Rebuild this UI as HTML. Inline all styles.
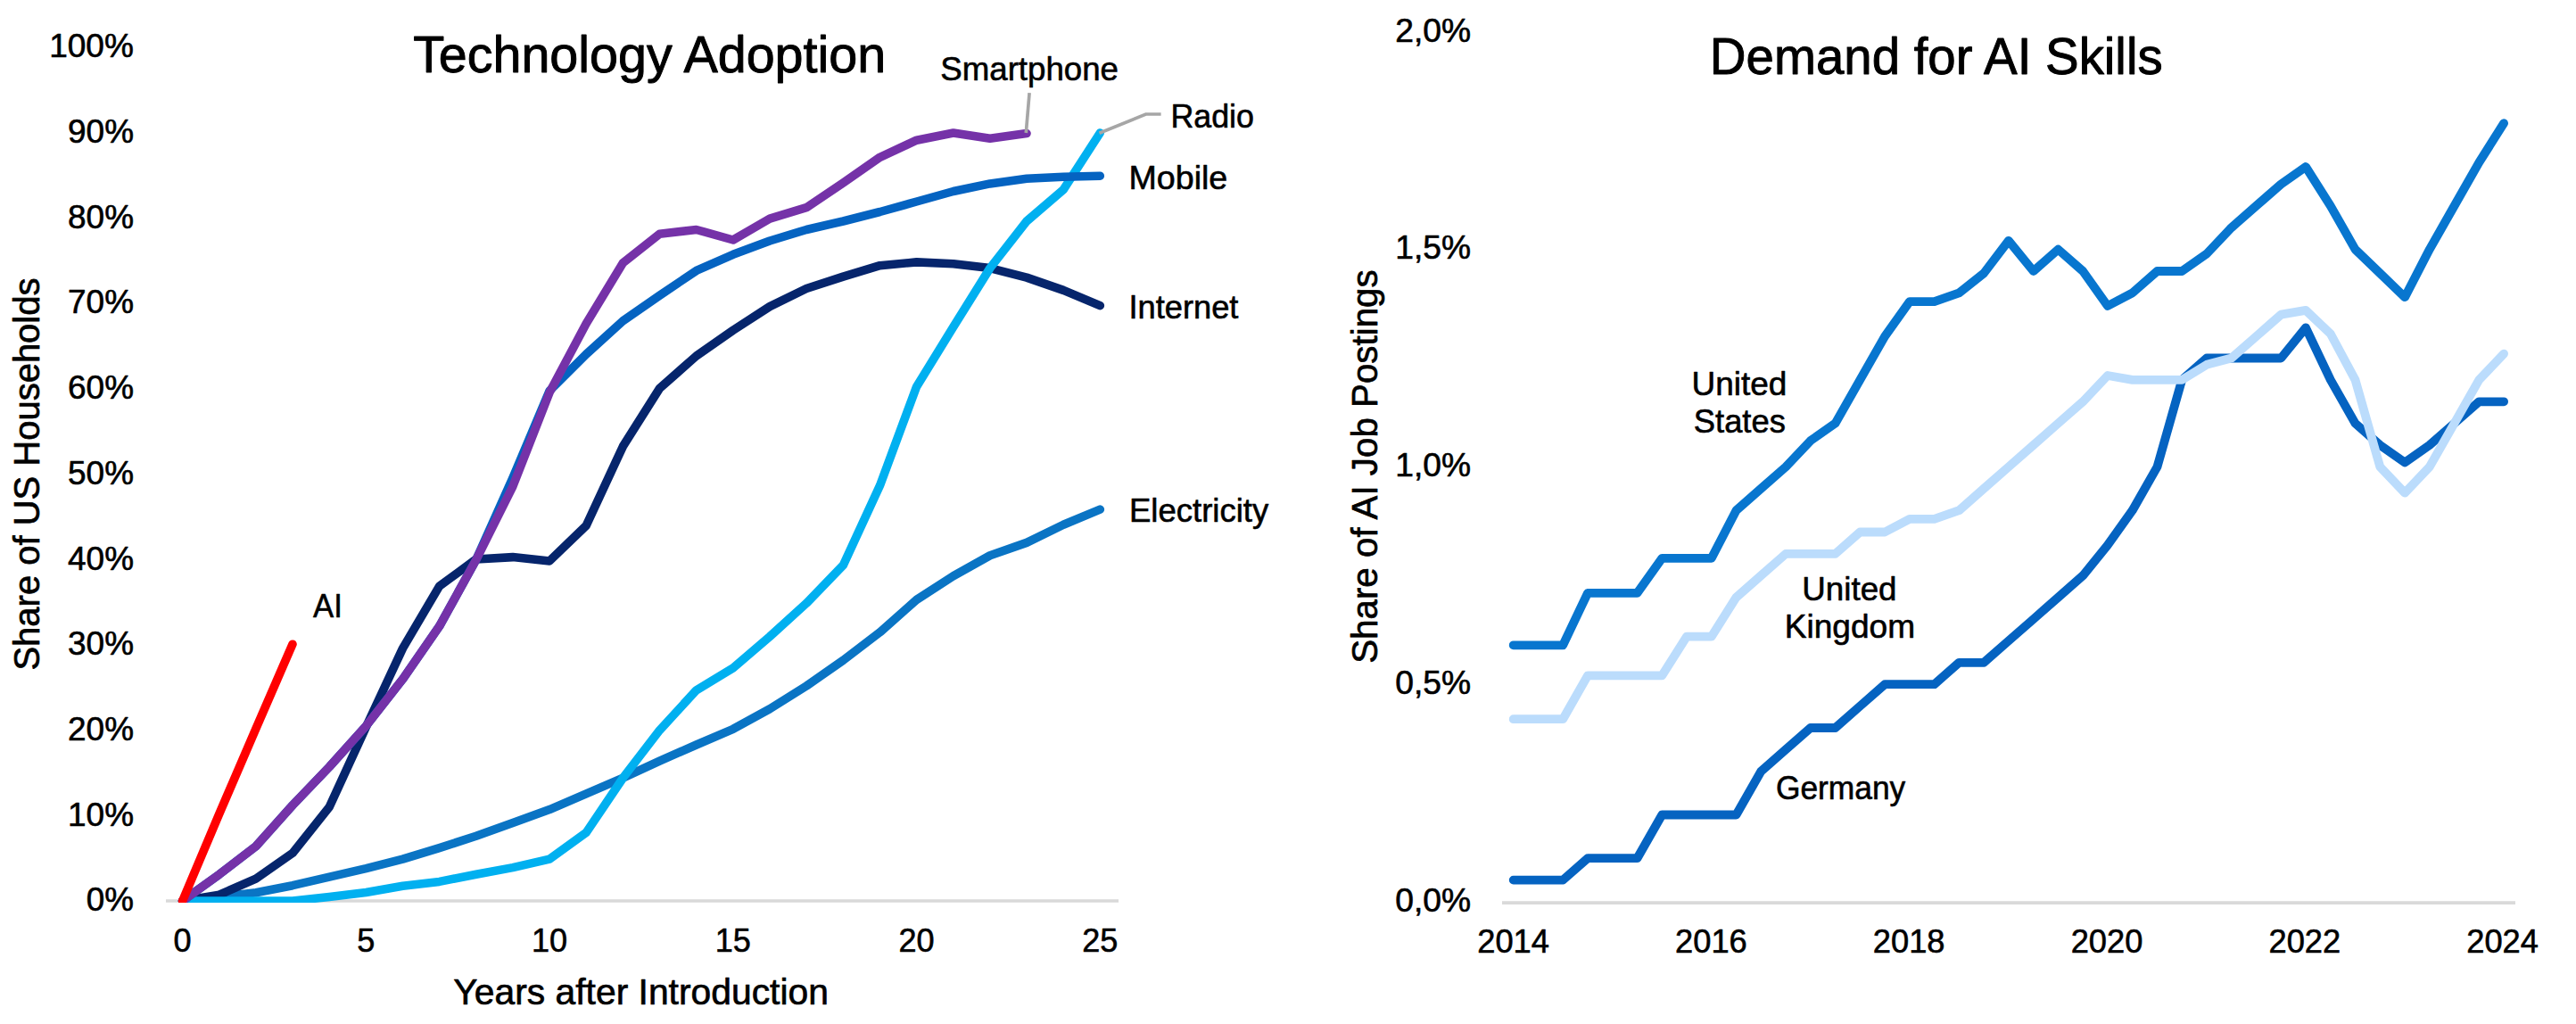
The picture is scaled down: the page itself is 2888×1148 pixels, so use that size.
<!DOCTYPE html>
<html lang="en"><head><meta charset="utf-8"><title>Technology Adoption / Demand for AI Skills</title>
<style>html,body{margin:0;padding:0;background:#fff}body{width:2888px;height:1148px;overflow:hidden}svg{display:block}text{font-family:"Liberation Sans",sans-serif;fill:#000;stroke:#000;stroke-linejoin:round}polyline{fill:none;stroke-linecap:round;stroke-linejoin:round}</style>
</head><body>
<svg width="2888" height="1148" viewBox="0 0 2888 1148">
<defs><clipPath id="cl"><rect x="150" y="0" width="1200" height="1011.9"/></clipPath></defs>
<rect width="2888" height="1148" fill="#fff"/>
<line x1="186" y1="1010" x2="1254" y2="1010" stroke="#d9d9d9" stroke-width="3.6"/>
<line x1="1684" y1="1012.1" x2="2820" y2="1012.1" stroke="#d9d9d9" stroke-width="3.6"/>
<g clip-path="url(#cl)">
<polyline points="204.6,1010.0 245.8,1005.6 286.9,1000.8 328.0,992.7 369.2,983.1 410.4,973.6 451.5,963.1 492.6,950.6 533.8,937.3 574.9,922.4 616.1,907.6 657.2,889.9 698.4,872.2 739.5,853.1 780.7,835.0 821.9,817.3 863.0,794.8 904.1,769.0 945.3,740.3 986.5,708.8 1027.6,672.4 1068.8,645.7 1109.9,622.7 1151.0,608.4 1192.2,588.3 1233.3,571.1" stroke="#0A74C4" stroke-width="9.6"/>
<polyline points="204.6,1010.0 245.8,1003.2 286.9,985.1 328.0,956.4 369.2,904.8 410.4,814.9 451.5,726.9 492.6,657.1 533.8,627.0 574.9,624.6 616.1,628.9 657.2,589.3 698.4,500.4 739.5,435.4 780.7,399.0 821.9,370.3 863.0,343.6 904.1,323.5 945.3,310.1 986.5,297.7 1027.6,293.9 1068.8,295.8 1109.9,300.6 1151.0,311.1 1192.2,325.4 1233.3,342.6" stroke="#06256C" stroke-width="9.6"/>
<polyline points="204.6,1010.0 245.8,1010.0 286.9,1010.0 328.0,1010.0 369.2,1005.4 410.4,1000.4 451.5,993.2 492.6,988.4 533.8,980.3 574.9,972.6 616.1,963.1 657.2,933.4 698.4,872.2 739.5,818.7 780.7,773.8 821.9,748.9 863.0,713.6 904.1,676.3 945.3,633.7 986.5,544.3 1027.6,433.4 1068.8,366.5 1109.9,300.6 1151.0,248.0 1192.2,212.6 1233.3,149.0" stroke="#00B0F0" stroke-width="9.6"/>
<polyline points="204.6,1010.0 245.8,980.3 286.9,948.7 328.0,902.8 369.2,859.8 410.4,813.9 451.5,761.4 492.6,702.1 533.8,627.5 574.9,535.7 616.1,438.2 657.2,397.1 698.4,359.8 739.5,331.2 780.7,303.4 821.9,285.3 863.0,270.0 904.1,257.5 945.3,248.0 986.5,237.5 1027.6,226.0 1068.8,214.5 1109.9,205.9 1151.0,200.2 1192.2,198.3 1233.3,197.3" stroke="#0563C1" stroke-width="9.6"/>
<polyline points="204.6,1010.0 245.8,980.3 286.9,948.7 328.0,902.8 369.2,859.8 410.4,813.9 451.5,761.4 492.6,702.1 533.8,627.5 574.9,545.3 616.1,440.1 657.2,362.7 698.4,294.8 739.5,262.3 780.7,257.5 821.9,269.0 863.0,245.1 904.1,232.7 945.3,205.0 986.5,176.3 1027.6,157.2 1068.8,149.0 1109.9,155.2 1151.0,149.5" stroke="#7532A8" stroke-width="9.6"/>
<polyline points="204.6,1010.0 245.8,912.4 286.9,816.8 328.0,722.2" stroke="#FF0000" stroke-width="9.6"/>
</g>
<polyline points="1154.1,104.1 1150.3,149" stroke="#a6a6a6" stroke-width="3.7" style="stroke-linecap:butt"/>
<polyline points="1232.5,149.3 1284.6,128 1301.6,128" stroke="#a6a6a6" stroke-width="3.7" style="stroke-linecap:butt;stroke-linejoin:miter"/>
<text x="463.13" y="81.12" font-size="57.4" stroke-width="0.95" textLength="530.01" lengthAdjust="spacingAndGlyphs">Technology Adoption</text>
<text x="55.16" y="63.60" font-size="36.6" stroke-width="0.6" textLength="94.66" lengthAdjust="spacingAndGlyphs">100%</text>
<text x="76.08" y="159.92" font-size="36.6" stroke-width="0.6" textLength="73.94" lengthAdjust="spacingAndGlyphs">90%</text>
<text x="76.08" y="255.64" font-size="36.6" stroke-width="0.6" textLength="73.94" lengthAdjust="spacingAndGlyphs">80%</text>
<text x="76.08" y="351.36" font-size="36.6" stroke-width="0.6" textLength="73.94" lengthAdjust="spacingAndGlyphs">70%</text>
<text x="76.08" y="447.08" font-size="36.6" stroke-width="0.6" textLength="73.94" lengthAdjust="spacingAndGlyphs">60%</text>
<text x="76.08" y="542.80" font-size="36.6" stroke-width="0.6" textLength="73.94" lengthAdjust="spacingAndGlyphs">50%</text>
<text x="76.08" y="638.52" font-size="36.6" stroke-width="0.6" textLength="73.95" lengthAdjust="spacingAndGlyphs">40%</text>
<text x="76.08" y="734.24" font-size="36.6" stroke-width="0.6" textLength="73.94" lengthAdjust="spacingAndGlyphs">30%</text>
<text x="76.08" y="829.96" font-size="36.6" stroke-width="0.6" textLength="73.94" lengthAdjust="spacingAndGlyphs">20%</text>
<text x="76.09" y="925.68" font-size="36.6" stroke-width="0.6" textLength="73.93" lengthAdjust="spacingAndGlyphs">10%</text>
<text x="96.75" y="1020.80" font-size="36.6" stroke-width="0.6" textLength="53.21" lengthAdjust="spacingAndGlyphs">0%</text>
<text x="194.57" y="1066.60" font-size="36.6" stroke-width="0.6" textLength="20.05" lengthAdjust="spacingAndGlyphs">0</text>
<text x="400.32" y="1066.60" font-size="36.6" stroke-width="0.6" textLength="20.05" lengthAdjust="spacingAndGlyphs">5</text>
<text x="596.05" y="1066.60" font-size="36.6" stroke-width="0.6" textLength="40.10" lengthAdjust="spacingAndGlyphs">10</text>
<text x="801.80" y="1066.60" font-size="36.6" stroke-width="0.6" textLength="40.10" lengthAdjust="spacingAndGlyphs">15</text>
<text x="1007.55" y="1066.60" font-size="36.6" stroke-width="0.6" textLength="40.10" lengthAdjust="spacingAndGlyphs">20</text>
<text x="1213.30" y="1066.60" font-size="36.6" stroke-width="0.6" textLength="40.10" lengthAdjust="spacingAndGlyphs">25</text>
<text x="508.34" y="1126.46" font-size="41" stroke-width="0.68" textLength="420.55" lengthAdjust="spacingAndGlyphs">Years after Introduction</text>
<text x="0" y="0" font-size="41" stroke-width="0.68" textLength="440.04" lengthAdjust="spacingAndGlyphs" transform="translate(44.06,751.57) rotate(-90)">Share of US Households</text>
<text x="1054.29" y="90.10" font-size="36.6" stroke-width="0.6" textLength="199.72" lengthAdjust="spacingAndGlyphs">Smartphone</text>
<text x="1312.40" y="143.00" font-size="36.6" stroke-width="0.6" textLength="93.54" lengthAdjust="spacingAndGlyphs">Radio</text>
<text x="1265.47" y="211.90" font-size="36.6" stroke-width="0.6" textLength="110.81" lengthAdjust="spacingAndGlyphs">Mobile</text>
<text x="1265.47" y="357.40" font-size="36.6" stroke-width="0.6" textLength="122.96" lengthAdjust="spacingAndGlyphs">Internet</text>
<text x="1265.95" y="585.20" font-size="36.6" stroke-width="0.6" textLength="156.36" lengthAdjust="spacingAndGlyphs">Electricity</text>
<text x="351.10" y="692.40" font-size="36.6" stroke-width="0.6" textLength="32.77" lengthAdjust="spacingAndGlyphs">AI</text>
<polyline points="1696.7,986.6 1724.5,986.6 1752.2,986.6 1780.0,962.2 1807.7,962.2 1835.5,962.2 1863.3,913.5 1891.0,913.5 1918.8,913.5 1946.5,913.5 1974.3,864.7 2002.1,840.3 2029.8,816.0 2057.6,816.0 2085.3,791.6 2113.1,767.2 2140.9,767.2 2168.6,767.2 2196.4,742.8 2224.1,742.8 2251.9,718.4 2279.7,694.1 2307.4,669.7 2335.2,645.3 2362.9,611.2 2390.7,572.2 2418.5,523.4 2446.2,425.9 2474.0,401.5 2501.7,401.5 2529.5,401.5 2557.3,401.5 2585.0,367.4 2612.8,425.9 2640.5,474.6 2668.3,499.0 2696.1,518.5 2723.8,499.0 2751.6,474.6 2779.3,450.3 2807.1,450.3" stroke="#0563C1" stroke-width="9.8"/>
<polyline points="1696.7,723.3 1724.5,723.3 1752.2,723.3 1780.0,664.8 1807.7,664.8 1835.5,664.8 1863.3,625.8 1891.0,625.8 1918.8,625.8 1946.5,572.2 1974.3,547.8 2002.1,523.4 2029.8,494.1 2057.6,474.6 2085.3,425.9 2113.1,377.1 2140.9,338.1 2168.6,338.1 2196.4,328.4 2224.1,306.4 2251.9,269.8 2279.7,304.0 2307.4,279.6 2335.2,304.0 2362.9,343.0 2390.7,328.4 2418.5,304.0 2446.2,304.0 2474.0,284.5 2501.7,255.2 2529.5,230.8 2557.3,206.5 2585.0,187.0 2612.8,230.8 2640.5,279.6 2668.3,306.4 2696.1,333.2 2723.8,279.6 2751.6,230.8 2779.3,182.1 2807.1,138.2" stroke="#0876CF" stroke-width="9.8"/>
<polyline points="1696.7,806.2 1724.5,806.2 1752.2,806.2 1780.0,757.4 1807.7,757.4 1835.5,757.4 1863.3,757.4 1891.0,713.6 1918.8,713.6 1946.5,669.7 1974.3,645.3 2002.1,620.9 2029.8,620.9 2057.6,620.9 2085.3,596.5 2113.1,596.5 2140.9,581.9 2168.6,581.9 2196.4,572.2 2224.1,547.8 2251.9,523.4 2279.7,499.0 2307.4,474.6 2335.2,450.3 2362.9,421.0 2390.7,425.9 2418.5,425.9 2446.2,425.9 2474.0,408.8 2501.7,401.5 2529.5,377.1 2557.3,352.7 2585.0,347.9 2612.8,374.2 2640.5,425.9 2668.3,523.4 2696.1,552.7 2723.8,523.4 2751.6,474.6 2779.3,425.9 2807.1,396.6" stroke="#BBDCFC" stroke-width="9.8"/>
<text x="1916.86" y="82.53" font-size="57.4" stroke-width="0.95" textLength="507.78" lengthAdjust="spacingAndGlyphs">Demand for AI Skills</text>
<text x="1564.32" y="46.60" font-size="36.6" stroke-width="0.6" textLength="84.80" lengthAdjust="spacingAndGlyphs">2,0%</text>
<text x="1564.32" y="290.38" font-size="36.6" stroke-width="0.6" textLength="84.79" lengthAdjust="spacingAndGlyphs">1,5%</text>
<text x="1564.32" y="534.16" font-size="36.6" stroke-width="0.6" textLength="84.79" lengthAdjust="spacingAndGlyphs">1,0%</text>
<text x="1564.31" y="777.94" font-size="36.6" stroke-width="0.6" textLength="84.81" lengthAdjust="spacingAndGlyphs">0,5%</text>
<text x="1564.31" y="1021.72" font-size="36.6" stroke-width="0.6" textLength="84.81" lengthAdjust="spacingAndGlyphs">0,0%</text>
<text x="1656.26" y="1067.50" font-size="36.6" stroke-width="0.6" textLength="80.69" lengthAdjust="spacingAndGlyphs">2014</text>
<text x="1878.06" y="1067.50" font-size="36.6" stroke-width="0.6" textLength="80.69" lengthAdjust="spacingAndGlyphs">2016</text>
<text x="2099.86" y="1067.50" font-size="36.6" stroke-width="0.6" textLength="80.69" lengthAdjust="spacingAndGlyphs">2018</text>
<text x="2321.66" y="1067.50" font-size="36.6" stroke-width="0.6" textLength="80.69" lengthAdjust="spacingAndGlyphs">2020</text>
<text x="2543.46" y="1067.50" font-size="36.6" stroke-width="0.6" textLength="80.69" lengthAdjust="spacingAndGlyphs">2022</text>
<text x="2765.26" y="1067.50" font-size="36.6" stroke-width="0.6" textLength="80.69" lengthAdjust="spacingAndGlyphs">2024</text>
<text x="0" y="0" font-size="41" stroke-width="0.68" textLength="441.45" lengthAdjust="spacingAndGlyphs" transform="translate(1544.26,743.78) rotate(-90)">Share of AI Job Postings</text>
<text x="1896.51" y="443.30" font-size="36.6" stroke-width="0.6" textLength="106.88" lengthAdjust="spacingAndGlyphs">United</text>
<text x="1898.81" y="485.20" font-size="36.6" stroke-width="0.6" textLength="103.01" lengthAdjust="spacingAndGlyphs">States</text>
<text x="2020.33" y="673.20" font-size="36.6" stroke-width="0.6" textLength="106.14" lengthAdjust="spacingAndGlyphs">United</text>
<text x="2000.71" y="715.30" font-size="36.6" stroke-width="0.6" textLength="146.34" lengthAdjust="spacingAndGlyphs">Kingdom</text>
<text x="1990.90" y="896.00" font-size="36.6" stroke-width="0.6" textLength="145.40" lengthAdjust="spacingAndGlyphs">Germany</text>
</svg>
</body></html>
